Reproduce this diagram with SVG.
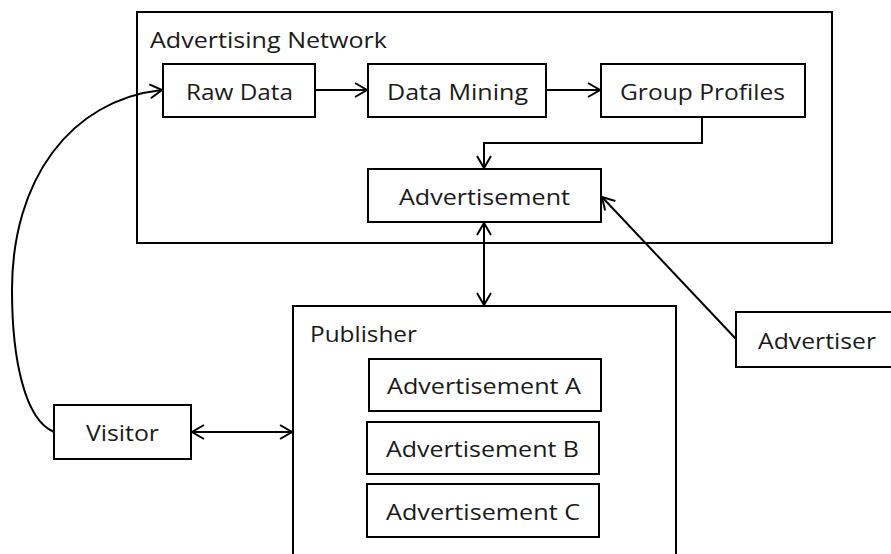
<svg xmlns="http://www.w3.org/2000/svg" width="891" height="554" viewBox="0 0 891 554">
  <style>
    .box { fill: #ffffff; stroke: #000000; stroke-width: 2; }
    .label { font-family: "Open Sans", "Liberation Sans", sans-serif; font-size: 21px; fill: #1a1a1a; }
    .wire { fill: none; stroke: #000000; stroke-width: 2; }
  </style>
  <defs>
    <marker id="chevron" markerUnits="userSpaceOnUse" markerWidth="20" markerHeight="20" viewBox="-16 -10 20 20" refX="0" refY="0" orient="auto-start-reverse">
      <path d="M-12,-7 L0,0 L-12,7" fill="none" stroke="#000000" stroke-width="2" stroke-linejoin="miter"/>
    </marker>
  </defs>
  <rect width="891" height="554" fill="#ffffff"/>

  <!-- containers -->
  <g id="advertising-network">
    <rect class="box" x="137" y="12" width="695" height="231"/>
    <text class="label" x="150" y="48" textLength="237" lengthAdjust="spacingAndGlyphs">Advertising Network</text>
  </g>
  <g id="publisher">
    <rect class="box" x="293" y="306" width="383" height="260"/>
    <text class="label" x="310" y="342" textLength="107" lengthAdjust="spacingAndGlyphs">Publisher</text>
  </g>

  <!-- nodes -->
  <g id="raw-data">
    <rect class="box" x="163" y="64" width="152" height="53"/>
    <text class="label" x="186" y="100" textLength="107" lengthAdjust="spacingAndGlyphs">Raw Data</text>
  </g>
  <g id="data-mining">
    <rect class="box" x="368" y="64" width="178" height="53"/>
    <text class="label" x="387" y="100" textLength="141" lengthAdjust="spacingAndGlyphs">Data Mining</text>
  </g>
  <g id="group-profiles">
    <rect class="box" x="601" y="64" width="204" height="53"/>
    <text class="label" x="620" y="100" textLength="165" lengthAdjust="spacingAndGlyphs">Group Profiles</text>
  </g>
  <g id="advertisement">
    <rect class="box" x="368" y="169" width="233" height="53"/>
    <text class="label" x="399" y="205" textLength="171" lengthAdjust="spacingAndGlyphs">Advertisement</text>
  </g>
  <g id="advertisement-a">
    <rect class="box" x="369" y="359" width="232" height="52"/>
    <text class="label" x="387" y="394" textLength="194" lengthAdjust="spacingAndGlyphs">Advertisement A</text>
  </g>
  <g id="advertisement-b">
    <rect class="box" x="367" y="422" width="232" height="52"/>
    <text class="label" x="386" y="457" textLength="193" lengthAdjust="spacingAndGlyphs">Advertisement B</text>
  </g>
  <g id="advertisement-c">
    <rect class="box" x="367" y="484" width="232" height="53"/>
    <text class="label" x="386" y="520" textLength="194" lengthAdjust="spacingAndGlyphs">Advertisement C</text>
  </g>
  <g id="visitor">
    <rect class="box" x="54" y="405" width="137" height="54"/>
    <text class="label" x="86" y="441" textLength="73" lengthAdjust="spacingAndGlyphs">Visitor</text>
  </g>
  <g id="advertiser">
    <rect class="box" x="736" y="312" width="160" height="55"/>
    <text class="label" x="758" y="349" textLength="118" lengthAdjust="spacingAndGlyphs">Advertiser</text>
  </g>

  <!-- connectors -->
  <g id="connectors">
    <line class="wire" x1="315" y1="90" x2="367" y2="90" marker-end="url(#chevron)"/>
    <line class="wire" x1="546" y1="90" x2="600" y2="90" marker-end="url(#chevron)"/>
    <polyline class="wire" points="702,117 702,143 484,143 484,168" marker-end="url(#chevron)"/>
    <line class="wire" x1="484" y1="223" x2="484" y2="305" marker-start="url(#chevron)" marker-end="url(#chevron)"/>
    <line class="wire" x1="736" y1="339" x2="602" y2="197" marker-end="url(#chevron)"/>
    <line class="wire" x1="192" y1="432" x2="292" y2="432" marker-start="url(#chevron)" marker-end="url(#chevron)"/>
    <path class="wire" d="M54,432 C25,420 12,360 12,290 C12,180 70,100 162,90" marker-end="url(#chevron)"/>
  </g>
</svg>
